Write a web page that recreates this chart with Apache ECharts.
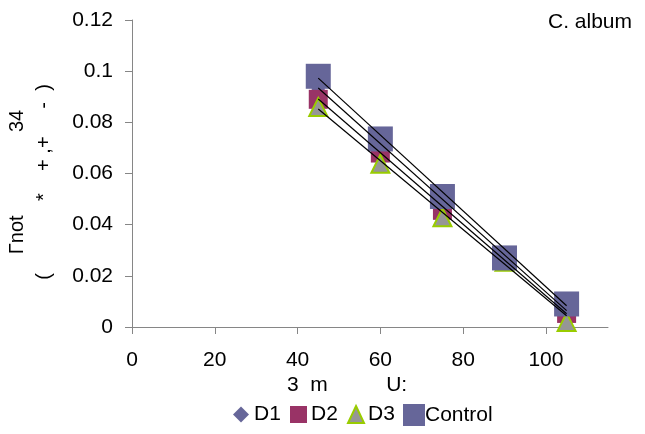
<!DOCTYPE html>
<html>
<head>
<meta charset="utf-8">
<script src="https://cdn.jsdelivr.net/npm/echarts@6/dist/echarts.min.js"></script>
<style>
  html, body { margin: 0; padding: 0; background: #fff; }
  #chart { width: 645px; height: 434px; }
</style>
</head>
<body>
<div id="chart"></div>
<script>
  // 数据
  const xValues = [45, 60, 75, 90, 105];
  const d1 = [0.093, 0.070, 0.048, 0.026, 0.006];
  const d2 = [0.089, 0.068, 0.0456, 0.026, 0.0053];
  const d3 = [0.086, 0.0638, 0.0429, 0.0255, 0.002];
  const control = [0.098, 0.0735, 0.051, 0.027, 0.009];
  // 趋势线两端 (x=45, x=105)
  const trendX = [45, 105];
  const trendD1 = [0.0934, 0.0064];
  const trendD2 = [0.0891, 0.0052];
  const trendD3 = [0.0852, 0.0044];
  const trendControl = [0.0973, 0.0083];
  const xTicks = [0, 20, 40, 60, 80, 100];

  const font = "'Liberation Sans', Arial, sans-serif";
  const axisColor = '#868686';

  const pairs = (xs, ys) => xs.map((x, i) => [x, ys[i]]);

  const trend = (name, ys) => ({
    name: name,
    type: 'line',
    data: pairs(trendX, ys),
    symbol: 'none',
    silent: true,
    z: 5,
    lineStyle: { color: '#000', width: 1.2 },
  });

  // 图例，每项单独一个，方便控制图标大小
  const legendItem = (name, left, w, h, textPad) => ({
    data: [name],
    left: left,
    top: 404,
    itemWidth: w,
    itemHeight: h,
    itemGap: 0,
    padding: 0,
    textStyle: { fontFamily: font, fontSize: 21, color: '#000', padding: [0, 0, 0, textPad] },
  });

  const chart = echarts.init(document.getElementById('chart'));
  const option = {
    animation: false,
    grid: { left: 132, top: 20, width: 476, height: 307 },
    xAxis: {
      type: 'value',
      min: 0,
      max: 115,
      splitLine: { show: false },
      axisLine: { lineStyle: { color: axisColor, width: 1 } },
      axisTick: { length: 7, customValues: xTicks, lineStyle: { color: axisColor } },
      axisLabel: { customValues: xTicks, margin: 23, fontFamily: font, fontSize: 21, color: '#000' },
    },
    yAxis: {
      type: 'value',
      min: 0,
      max: 0.12,
      interval: 0.02,
      splitLine: { show: false },
      axisLine: { show: true, lineStyle: { color: axisColor, width: 1 } },
      axisTick: { show: true, length: 7, lineStyle: { color: axisColor } },
      axisLabel: { margin: 19, fontFamily: font, fontSize: 21, color: '#000' },
    },
    legend: [
      legendItem('D1', 233, 16, 16, 0),
      legendItem('D2', 290, 17, 17, -1),
      legendItem('D3', 347, 16, 17, -1),
      legendItem('Control', 403, 22, 22, -5),
    ],
    graphic: [
      {
        type: 'text',
        right: 13,
        top: 12,
        style: { text: 'C. album', fontFamily: font, fontSize: 21, fill: '#000' },
      },
      {
        type: 'text',
        x: 287,
        y: 385,
        style: {
          text: '3  m          U:',
          fontFamily: font,
          fontSize: 21,
          fill: '#000',
          textAlign: 'left',
          textVerticalAlign: 'middle',
        },
      },
      {
        type: 'text',
        x: 31,
        y: 182,
        rotation: Math.PI / 2,
        style: {
          text: 'Γnot               34\n(             *    + ,+     -  )',
          fontFamily: font,
          fontSize: 20,
          lineHeight: 27,
          fill: '#000',
          textAlign: 'center',
          textVerticalAlign: 'middle',
        },
      },
    ],
    series: [
      {
        name: 'D1',
        type: 'scatter',
        data: pairs(xValues, d1),
        symbol: 'diamond',
        symbolSize: 14,
        itemStyle: { color: '#666699', opacity: 1 },
      },
      {
        name: 'D2',
        type: 'scatter',
        data: pairs(xValues, d2),
        symbol: 'rect',
        symbolSize: 19,
        itemStyle: { color: '#993366', opacity: 1 },
      },
      {
        name: 'D3',
        type: 'scatter',
        data: pairs(xValues, d3),
        symbol: 'triangle',
        symbolSize: [18, 18],
        itemStyle: { color: '#969696', borderColor: '#99CC00', borderWidth: 2, opacity: 1 },
      },
      {
        name: 'Control',
        type: 'scatter',
        data: pairs(xValues, control),
        symbol: 'rect',
        symbolSize: 25,
        itemStyle: { color: '#666699', opacity: 1 },
      },
      trend('tD1', trendD1),
      trend('tD2', trendD2),
      trend('tD3', trendD3),
      trend('tControl', trendControl),
    ],
  };
  chart.setOption(option);
</script>
</body>
</html>
